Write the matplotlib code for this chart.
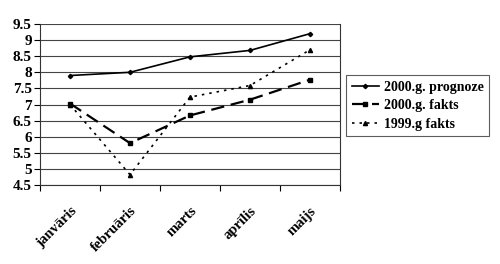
import matplotlib
matplotlib.use("Agg")
import matplotlib.pyplot as plt
import numpy as np

months = ["janvāris", "februāris", "marts", "aprīlis", "maijs"]
prognoze_2000 = [7.9, 8.0, 8.48, 8.68, 9.2]
fakts_2000 = [7.03, 5.8, 6.66, 7.15, 7.77]
fakts_1999 = [7.0, 4.82, 7.23, 7.59, 8.7]
series_labels = ["2000.g. prognoze", "2000.g. fakts", "1999.g fakts"]
yticks = [4.5, 5, 5.5, 6, 6.5, 7, 7.5, 8, 8.5, 9, 9.5]
ytick_labels = ["4.5", "5", "5.5", "6", "6.5", "7", "7.5", "8", "8.5", "9", "9.5"]

plt.rcParams['font.family'] = ['Liberation Serif', 'DejaVu Serif']
fig = plt.figure(figsize=(5.0, 2.64), dpi=100)
ax = fig.add_axes([40/500, 1-185/264, 300/500, 161/264])

x = np.arange(len(months))
ax.plot(x, prognoze_2000, color='black', lw=1.2, ls='-', marker='D', ms=2.2, label=series_labels[0])
ax.plot(x, fakts_2000, color='black', lw=1.6, ls=(0, (6, 3)), marker='s', ms=2.8, label=series_labels[1])
ax.plot(x, fakts_1999, color='black', lw=1.2, ls=(0, (1.5, 3)), marker='^', ms=3, label=series_labels[2])

ax.set_xlim(-0.5, len(months) - 0.5)
ax.set_ylim(4.5, 9.5)
ax.set_yticks(yticks)
ax.set_yticklabels(ytick_labels, fontsize=11, fontweight='bold')
ax.yaxis.grid(True, color='#444444', lw=0.8)
ax.set_axisbelow(True)

ax.set_xticks(x)
ax.set_xticklabels(months, rotation=45, ha='right', rotation_mode='anchor', fontsize=10.5, fontweight='bold')
ax.tick_params(axis='x', which='major', length=0, pad=14)
ax.set_xticks(np.arange(-0.5, len(months)), minor=True)
ax.tick_params(axis='x', which='minor', length=4, direction='out', width=0.8)
ax.tick_params(axis='y', length=4, direction='out', width=0.8, pad=2)

for s in ['left', 'right', 'bottom']:
    ax.spines[s].set_color('#333333')
    ax.spines[s].set_linewidth(0.8)
ax.spines['top'].set_visible(False)

leg = fig.legend(loc='upper left', bbox_to_anchor=(346/500, 1-75/264), frameon=True,
                 prop={'weight': 'bold', 'size': 10}, handlelength=2.0, handletextpad=0.3,
                 borderpad=0.4, labelspacing=0.4, borderaxespad=0, fancybox=False)
leg.get_frame().set_edgecolor('#333333')
leg.get_frame().set_linewidth(0.8)

fig.savefig("out.png", dpi=100)
